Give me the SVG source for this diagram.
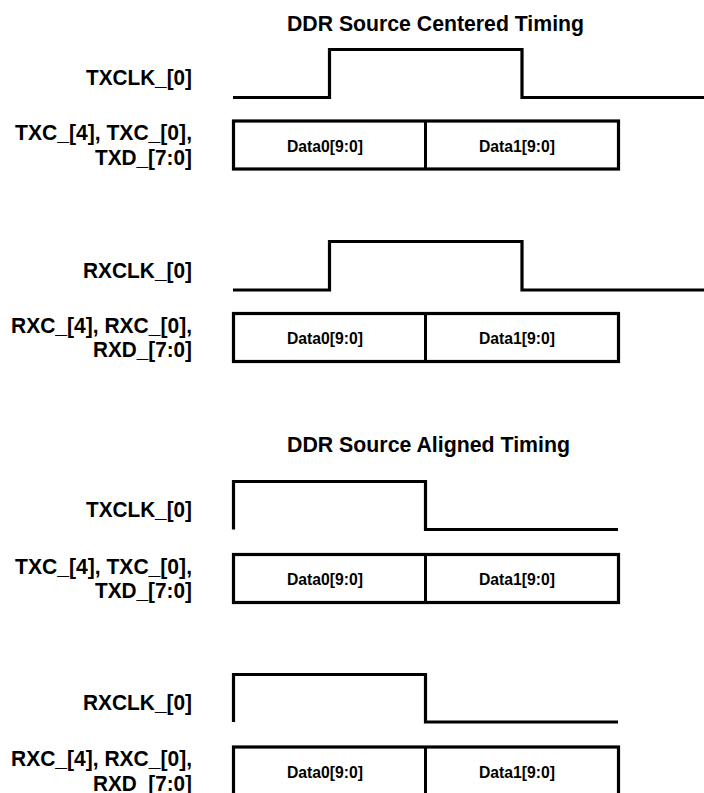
<svg xmlns="http://www.w3.org/2000/svg" width="704" height="793" viewBox="0 0 704 793">
<style>
text{font-family:"Liberation Sans",Arial,sans-serif;font-weight:bold;fill:#000}
.title{font-size:22.5px}
.lbl{font-size:22px;text-anchor:end}
.dat{font-size:17px;text-anchor:middle}
.wave{fill:none;stroke:#000;stroke-width:3.2;stroke-linejoin:miter}
.box{fill:#fff;stroke:#000;stroke-width:3.2}
.div{stroke:#000;stroke-width:3}
</style>
<rect width="704" height="793" fill="#fff"/>
<g id="title-centered"><text class="title" x="287" y="31" textLength="297" lengthAdjust="spacingAndGlyphs">DDR Source Centered Timing</text></g>
<g id="txclk-centered">
<text class="lbl" x="192" y="85" textLength="106" lengthAdjust="spacingAndGlyphs">TXCLK_[0]</text>
<path class="wave" d="M233,97.5 H329.5 V49.5 H522 V97.5 H704"/>
</g>
<g id="txd-centered">
<text class="lbl" x="192" y="140" textLength="177" lengthAdjust="spacingAndGlyphs">TXC_[4], TXC_[0],</text>
<text class="lbl" x="192" y="164.5" textLength="97" lengthAdjust="spacingAndGlyphs">TXD_[7:0]</text>
<rect class="box" x="233.5" y="121" width="385" height="48"/>
<line class="div" x1="425.5" y1="121" x2="425.5" y2="169"/>
<text class="dat" x="325" y="151.5" textLength="76" lengthAdjust="spacingAndGlyphs">Data0[9:0]</text>
<text class="dat" x="517" y="151.5" textLength="76" lengthAdjust="spacingAndGlyphs">Data1[9:0]</text>
</g>
<g id="rxclk-centered">
<text class="lbl" x="192" y="277.5" textLength="109" lengthAdjust="spacingAndGlyphs">RXCLK_[0]</text>
<path class="wave" d="M233,290 H329.5 V241.5 H522 V290 H704"/>
</g>
<g id="rxd-centered">
<text class="lbl" x="192" y="332.5" textLength="181" lengthAdjust="spacingAndGlyphs">RXC_[4], RXC_[0],</text>
<text class="lbl" x="192" y="357" textLength="99" lengthAdjust="spacingAndGlyphs">RXD_[7:0]</text>
<rect class="box" x="233.5" y="313.5" width="385" height="48"/>
<line class="div" x1="425.5" y1="313.5" x2="425.5" y2="361.5"/>
<text class="dat" x="325" y="344" textLength="76" lengthAdjust="spacingAndGlyphs">Data0[9:0]</text>
<text class="dat" x="517" y="344" textLength="76" lengthAdjust="spacingAndGlyphs">Data1[9:0]</text>
</g>
<g id="title-aligned"><text class="title" x="287" y="452" textLength="283" lengthAdjust="spacingAndGlyphs">DDR Source Aligned Timing</text></g>
<g id="txclk-aligned">
<text class="lbl" x="192" y="517" textLength="106" lengthAdjust="spacingAndGlyphs">TXCLK_[0]</text>
<path class="wave" d="M233.5,529.5 V481.5 H425.5 V529.5 H618"/>
</g>
<g id="txd-aligned">
<text class="lbl" x="192" y="573.5" textLength="177" lengthAdjust="spacingAndGlyphs">TXC_[4], TXC_[0],</text>
<text class="lbl" x="192" y="598" textLength="97" lengthAdjust="spacingAndGlyphs">TXD_[7:0]</text>
<rect class="box" x="233.5" y="554.5" width="385" height="48"/>
<line class="div" x1="425.5" y1="554.5" x2="425.5" y2="602.5"/>
<text class="dat" x="325" y="585" textLength="76" lengthAdjust="spacingAndGlyphs">Data0[9:0]</text>
<text class="dat" x="517" y="585" textLength="76" lengthAdjust="spacingAndGlyphs">Data1[9:0]</text>
</g>
<g id="rxclk-aligned">
<text class="lbl" x="192" y="710" textLength="109" lengthAdjust="spacingAndGlyphs">RXCLK_[0]</text>
<path class="wave" d="M233.5,722 V674.5 H425.5 V722 H618"/>
</g>
<g id="rxd-aligned">
<text class="lbl" x="192" y="766" textLength="181" lengthAdjust="spacingAndGlyphs">RXC_[4], RXC_[0],</text>
<text class="lbl" x="192" y="790.5" textLength="99" lengthAdjust="spacingAndGlyphs">RXD_[7:0]</text>
<rect class="box" x="233.5" y="747" width="385" height="48"/>
<line class="div" x1="425.5" y1="747" x2="425.5" y2="795"/>
<text class="dat" x="325" y="777.5" textLength="76" lengthAdjust="spacingAndGlyphs">Data0[9:0]</text>
<text class="dat" x="517" y="777.5" textLength="76" lengthAdjust="spacingAndGlyphs">Data1[9:0]</text>
</g>
</svg>
